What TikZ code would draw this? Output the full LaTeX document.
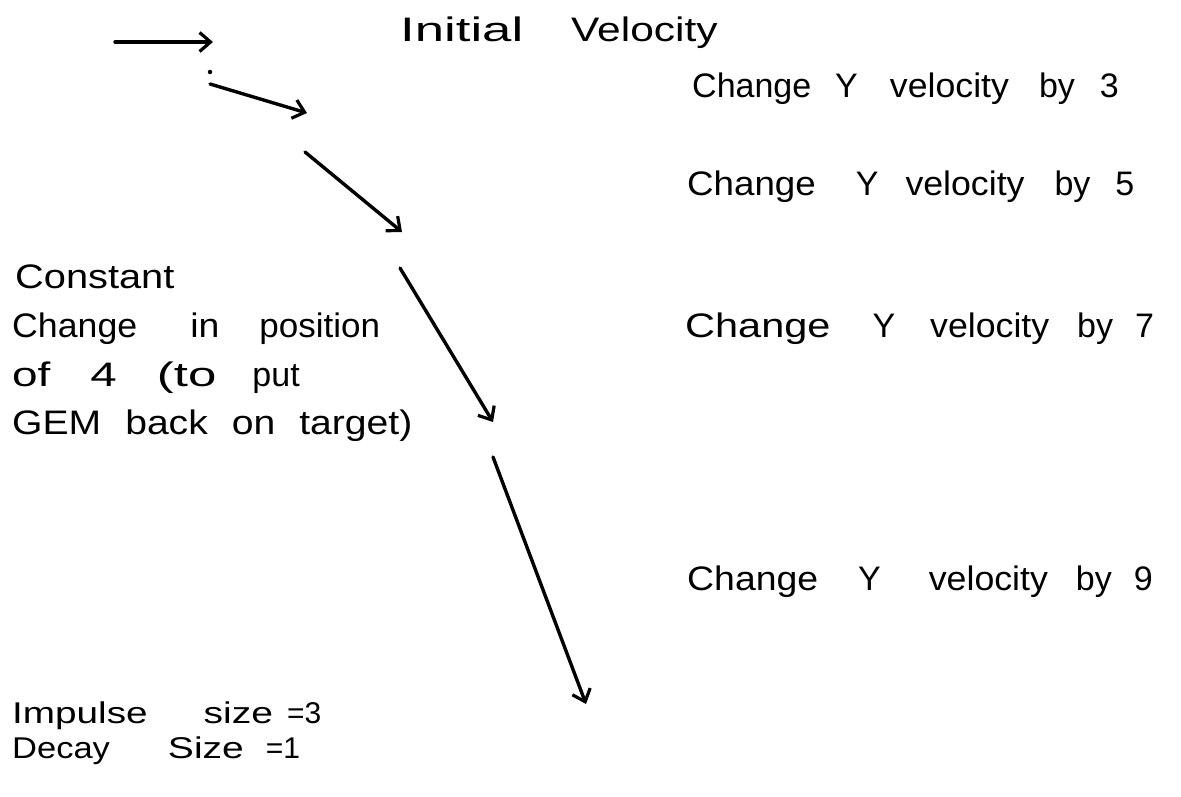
\documentclass[tikz,border=0pt]{standalone}
\usepackage{fontspec}
\usepackage{graphicx}
\setmainfont{Liberation Sans}
\usetikzlibrary{arrows.meta}
\newcommand{\hwd}[2]{\scalebox{#1}[1]{#2}}
\tikzset{
  vec/.style={line width=3.4pt, line cap=round, -{Straight Barb[length=11pt,width=19pt,line width=3.2pt]}},
  hand/.style={anchor=base west, inner sep=0pt, font=\fontsize{34}{40}\selectfont},
  handsmall/.style={anchor=base west, inner sep=0pt, font=\fontsize{30}{36}\selectfont},
  speck/.style={fill=black, circle, inner sep=0pt, minimum size=4.5pt}
}
\begin{document}
\begin{tikzpicture}[x=1pt,y=-1pt]
\useasboundingbox (0,0) rectangle (1181,797);
% start/end points of the velocity vectors
\coordinate (p1s) at (115,42);  \coordinate (p1e) at (213,42);
\coordinate (p2s) at (210,84);  \coordinate (p2e) at (307,113);
\coordinate (p3s) at (305,152); \coordinate (p3e) at (402,232);
\coordinate (p4s) at (400,268); \coordinate (p4e) at (493,422);
\coordinate (p5s) at (493,457); \coordinate (p5e) at (586,704);
\node[speck] (dot1) at (210,72) {};
\draw[vec] (p1s) -- (p1e);
\draw[vec] (p2s) -- (p2e);
\draw[vec] (p3s) -- (p3e);
\draw[vec] (p4s) -- (p4e);
\draw[vec] (p5s) -- (p5e);
% labels
\node[hand] (init) at (400,42) {\hwd{1.55}{Initial}\hspace{48pt}\hwd{1.25}{Velocity}};
\node[hand] (c3) at (692,98) {Change\hspace{24pt}Y\hspace{32pt}\hwd{1.05}{velocity}\hspace{30pt}by\hspace{25pt}3};
\node[hand] (c5) at (687,195) {\hwd{1.08}{Change}\hspace{40pt}Y\hspace{27pt}\hwd{1.05}{velocity}\hspace{30pt}by\hspace{25pt}5};
\node[hand] (c7) at (685,337) {\hwd{1.22}{Change}\hspace{42pt}Y\hspace{35pt}\hwd{1.05}{velocity}\hspace{28pt}by\hspace{22pt}7};
\node[hand] (c9) at (687,590) {\hwd{1.1}{Change}\hspace{40pt}Y\hspace{48pt}\hwd{1.05}{velocity}\hspace{28pt}by\hspace{22pt}9};
\node[hand] (k1) at (15,288) {\hwd{1.17}{Constant}};
\node[hand] (k2) at (12,337) {\hwd{1.05}{Change}\hspace{53pt}\hwd{1.1}{in}\hspace{40pt}\hwd{1.03}{position}};
\node[hand] (k3) at (12,386) {\hwd{1.35}{of}\hspace{40pt}\hwd{1.4}{4}\hspace{40pt}\hwd{1.5}{(to}\hspace{36pt}put};
\node[hand] (k4) at (12,434) {\hwd{1.15}{GEM}\hspace{24pt}\hwd{1.15}{back}\hspace{24pt}\hwd{1.15}{on}\hspace{24pt}\hwd{1.15}{target)}};
\node[handsmall] (i1) at (12,723) {\hwd{1.29}{Impulse}\hspace{56pt}\hwd{1.3}{size}\hspace{14pt}=3};
\node[handsmall] (i2) at (12,758) {\hwd{1.15}{Decay}\hspace{58pt}\hwd{1.3}{Size}\hspace{22pt}=1};
\end{tikzpicture}
\end{document}
